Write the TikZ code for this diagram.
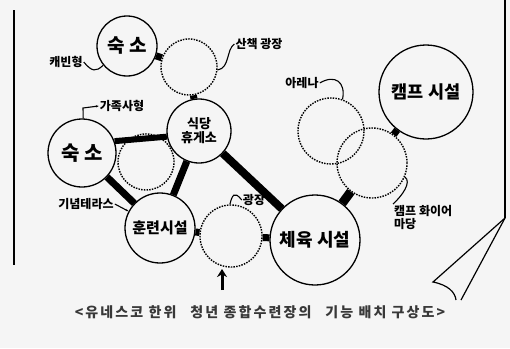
\documentclass[tikz,border=0pt]{standalone}
\usepackage{fontspec}
\newfontfamily\kr{Noto Sans CJK KR}
\newfontfamily\krsp[LetterSpace=15]{Noto Sans CJK KR}
\usetikzlibrary{arrows.meta}
\begin{document}
\begin{tikzpicture}[x=1pt,y=-1pt,
  circ/.style={draw,circle,line width=1.3pt,inner sep=0pt,font=\kr\bfseries},
  dcirc/.style={draw,circle,line width=1.4pt,inner sep=0pt,dash pattern=on 1.5pt off 1.2pt},
  bar/.style={line width=7pt},
  lab/.style={font=\kr\bfseries\fontsize{12}{13}\selectfont,inner sep=1pt,align=left},
  squig/.style={line width=1.1pt}]
\useasboundingbox (0,0) rectangle (510,348);
\fill[gray!8] (0,0) rectangle (510,348);
% frame
\draw[line width=1.4pt] (14,10) -- (14,265);
\draw[line width=1.4pt] (505,0) -- (505,218);
\draw[line width=1.2pt] (505,218) -- (433,282) .. controls (448,285) and (455,292) .. (456,300);
\draw[line width=1.2pt] (505,218) -- (461,300);
% circles
\node[circ,minimum size=60pt,font=\kr\bfseries\fontsize{19}{20}\selectfont] (s1) at (127,46) {숙 소};
\node[dcirc,minimum size=56pt] (d1) at (189,67) {};
\node[circ,minimum size=64pt,align=center,font=\kr\bfseries\fontsize{13}{14}\selectfont] (r1) at (199,131) {식당\\휴게소};
\node[circ,minimum size=68pt,font=\kr\bfseries\fontsize{20}{21}\selectfont] (s2) at (82,153) {숙 소};
\node[dcirc,minimum size=56pt] (d5) at (146,162) {};
\node[circ,minimum size=70pt,font=\kr\bfseries\fontsize{15}{16}\selectfont] (t1) at (160,228) {훈련시설};
\node[dcirc,minimum size=62pt] (d3) at (231,236) {};
\node[circ,minimum size=90pt,font=\kr\bfseries\fontsize{18}{19}\selectfont] (g1) at (315,240) {체육 시설};
\node[dcirc,minimum size=66pt] (d2) at (331,131) {};
\node[dcirc,minimum size=70pt] (d4) at (372,163) {};
\node[circ,minimum size=94pt,font=\kr\bfseries\fontsize{17.5}{18}\selectfont] (c1) at (426,92) {캠프 시설};
% bars
\draw[bar] (s1) -- (d1);
\draw[bar] (d1) -- (r1);
\draw[line width=6pt] (s2.20) -- (r1.190);
\draw[bar] (s2) -- (t1);
\draw[bar] (r1) -- (t1);
\draw[line width=8pt] (r1) -- (g1);
\draw[bar] (t1) -- (d3);
\draw[bar] (d3) -- (g1);
\draw[line width=9pt] (d4) -- (g1);
\draw[bar] (d4) -- (c1);
% labels
\node[lab] (l1) at (66,62) {캐빈형};
\node[lab] (l2) at (259,44) {산책 광장};
\node[lab] (l3) at (122,106) {가족사형};
\node[lab] (l4) at (86,204) {기념테라스};
\node[lab] (l5) at (302,83) {아레나};
\node[lab] (l6) at (254,200) {광장};
\node[lab,anchor=north west] (l7) at (393,204) {캠프 화이어\\마당};
% squiggles
\draw[squig] (l1.east) .. controls (92,72) and (96,72) .. (s1.219);
\draw[squig] (l2.west) .. controls (226,50) and (230,68) .. (d1.354);
\draw[squig,-{Stealth[length=3pt]}] (s2.88) -- (83,108) -- (l3.west);
\draw[squig,-{Stealth[length=3pt]}] (l4.east) -- (t1.152);
\draw[squig] (l5.east) .. controls (335,74) and (346,82) .. (d2.70);
\draw[squig] (l6.west) .. controls (234,190) and (232,196) .. (d3.92);
\draw[squig] (d4.337) .. controls (412,182) and (402,196) .. (l7.north west);
% arrow
\coordinate (a0) at (222,290);
\coordinate (a1) at (222,269);
\draw[line width=3pt,-{Stealth[length=8pt,width=10pt]}] (a0) -- (a1);
% caption
\node[font=\krsp\bfseries\fontsize{14}{15}\selectfont,text=black!78] (cap) at (260,312) {<유네스코 한위\quad 청년 종합수련장의\quad 기능 배치 구상도>};
\end{tikzpicture}
\end{document}
